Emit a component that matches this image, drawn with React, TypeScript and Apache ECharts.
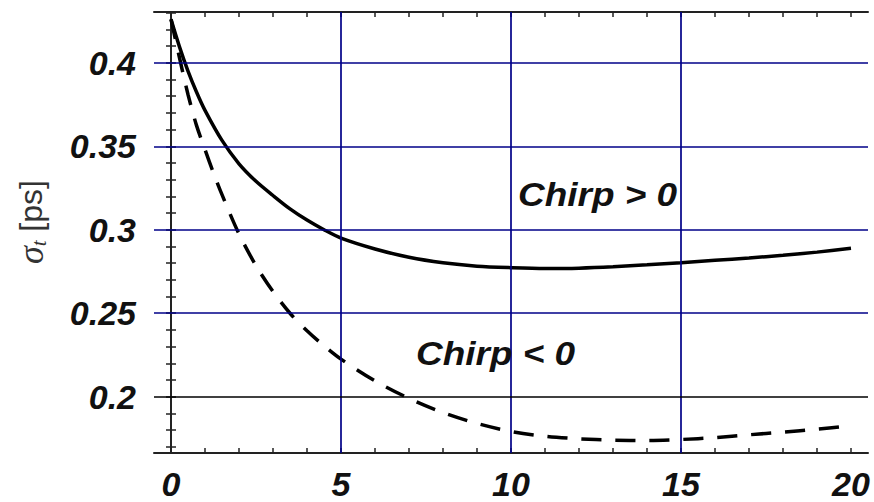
import React, { useEffect, useRef } from "react";
import * as echarts from "echarts";

// Axis ticks and labels
const xLabelValues = [0, 5, 10, 15, 20];
const xMinorTicks = [0, 1, 2, 3, 4, 5, 6, 7, 8, 9, 10, 11, 12, 13, 14, 15, 16, 17, 18, 19, 20];
const yLabelValues = [0.2, 0.25, 0.3, 0.35, 0.4];
const yMinorTicks = [
  0.17, 0.18, 0.19, 0.2, 0.21, 0.22, 0.23, 0.24, 0.25, 0.26, 0.27, 0.28, 0.29,
  0.3, 0.31, 0.32, 0.33, 0.34, 0.35, 0.36, 0.37, 0.38, 0.39, 0.4, 0.41, 0.42, 0.43,
];
const blueGridX = [5, 10, 15];
const blueGridY = [0.25, 0.3, 0.35, 0.4];
const blackGridY = [0.2];

// Chirp > 0 (solid)
const posX = [0, 0.25, 0.5, 0.75, 1, 1.5, 2, 2.5, 3, 3.5, 4, 4.5, 5, 6, 7, 8, 9, 10, 11, 12, 13, 14, 15, 16, 17, 18, 19, 20];
const posY = [0.426, 0.4095, 0.395, 0.3825, 0.3715, 0.3535, 0.3395, 0.329, 0.3205, 0.3125, 0.3058, 0.3, 0.295, 0.2885, 0.2835, 0.2802, 0.2782, 0.2773, 0.2768, 0.277, 0.2778, 0.279, 0.2803, 0.2817, 0.2831, 0.2847, 0.2866, 0.2889];

// Chirp < 0 (dashed)
const negX = [0, 0.25, 0.5, 0.75, 1, 1.25, 1.5, 2, 2.5, 3, 3.5, 4, 4.5, 5, 6, 7, 8, 9, 10, 11, 12, 13, 14, 15, 16, 17, 18, 19, 20];
const negY = [0.426, 0.403, 0.381, 0.3625, 0.348, 0.334, 0.321, 0.2975, 0.2785, 0.263, 0.25, 0.2395, 0.2305, 0.2225, 0.2095, 0.199, 0.1905, 0.184, 0.1792, 0.1763, 0.1748, 0.174, 0.1738, 0.1744, 0.1755, 0.1772, 0.1788, 0.1805, 0.1826];

const X_MIN = -0.5;
const X_MAX = 20.5;
const Y_MIN = 0.1663;
const Y_MAX = 0.4304;

const labelFont = {
  fontFamily: "Liberation Sans",
  fontWeight: "bold" as const,
  fontStyle: "italic" as const,
  fontSize: 34,
  color: "#111",
};

export default function App() {
  const ref = useRef<HTMLDivElement>(null);
  useEffect(() => {
    if (!ref.current) return;
    const chart = echarts.init(ref.current, undefined, { renderer: "svg" });
    const frame = { show: true, lineStyle: { color: "#222", width: 2 } };
    const tick = (vals: number[]) => ({
      show: true,
      inside: true,
      length: 5,
      customValues: vals,
      lineStyle: { color: "#222", width: 1.5 },
    });
    const option: any = {
      animation: false,
      backgroundColor: "#fff",
      grid: { left: 154, right: 6, top: 12, bottom: 49, containLabel: false },
      xAxis: [
        {
          type: "value",
          min: X_MIN,
          max: X_MAX,
          position: "bottom",
          axisLine: frame,
          axisTick: tick(xMinorTicks),
          axisLabel: { ...labelFont, margin: 14, customValues: xLabelValues },
          splitLine: { show: false },
        },
        {
          type: "value",
          min: X_MIN,
          max: X_MAX,
          position: "top",
          axisLine: frame,
          axisTick: tick(xMinorTicks),
          axisLabel: { show: false },
          splitLine: { show: false },
        },
      ],
      yAxis: [
        {
          type: "value",
          min: Y_MIN,
          max: Y_MAX,
          position: "left",
          axisLine: frame,
          axisTick: tick(yMinorTicks),
          axisLabel: { ...labelFont, margin: 18, customValues: yLabelValues },
          splitLine: { show: false },
        },
        {
          type: "value",
          min: Y_MIN,
          max: Y_MAX,
          position: "right",
          axisLine: frame,
          axisTick: tick(yMinorTicks),
          axisLabel: { show: false },
          splitLine: { show: false },
        },
      ],
      series: [
        {
          type: "line",
          data: [],
          z: 1,
          silent: true,
          markLine: {
            silent: true,
            symbol: ["none", "none"],
            label: { show: false },
            animation: false,
            lineStyle: { color: "#000088", width: 1.7, type: "solid" },
            data: [
              ...blueGridX.map((v) => ({ xAxis: v })),
              ...blueGridY.map((v) => ({ yAxis: v })),
              ...blackGridY.map((v) => ({ yAxis: v, lineStyle: { color: "#000", width: 1.7, type: "solid" } })),
            ],
          },
        },
        {
          name: "Chirp > 0",
          type: "line",
          z: 3,
          data: posX.map((x, i) => [x, posY[i]]),
          showSymbol: false,
          smooth: 0.3,
          lineStyle: { color: "#000", width: 3.5 },
        },
        {
          name: "Chirp < 0",
          type: "line",
          z: 3,
          data: negX.map((x, i) => [x, negY[i]]),
          showSymbol: false,
          smooth: 0.3,
          lineStyle: { color: "#000", width: 3.5, type: [20, 14] },
        },
      ],
      graphic: [
        {
          type: "text",
          x: 31,
          y: 222,
          rotation: Math.PI / 2,
          style: {
            text: "{s|σ}{t|t}  {p|[ps]}",
            align: "center",
            verticalAlign: "middle",
            rich: {
              s: { fontFamily: "Liberation Serif", fontStyle: "italic", fontSize: 36, fill: "#333" },
              t: { fontFamily: "Liberation Serif", fontStyle: "italic", fontSize: 21, fill: "#333", padding: [16, 2, 0, 0] },
              p: { fontFamily: "Liberation Sans", fontSize: 32, fill: "#333" },
            },
          },
        },
        {
          type: "text",
          x: 518,
          y: 178,
          scaleX: 1.12,
          style: { text: "Chirp > 0", fontFamily: "Liberation Sans", fontStyle: "italic", fontWeight: "bold", fontSize: 33, fill: "#111" },
          z: 10,
        },
        {
          type: "text",
          x: 416,
          y: 337,
          scaleX: 1.12,
          style: { text: "Chirp < 0", fontFamily: "Liberation Sans", fontStyle: "italic", fontWeight: "bold", fontSize: 33, fill: "#111" },
          z: 10,
        },
      ],
    };
    chart.setOption(option);
    return () => chart.dispose();
  }, []);
  return <div ref={ref} style={{ width: 874, height: 502, position: "absolute", left: 0, top: 0 }} />;
}
